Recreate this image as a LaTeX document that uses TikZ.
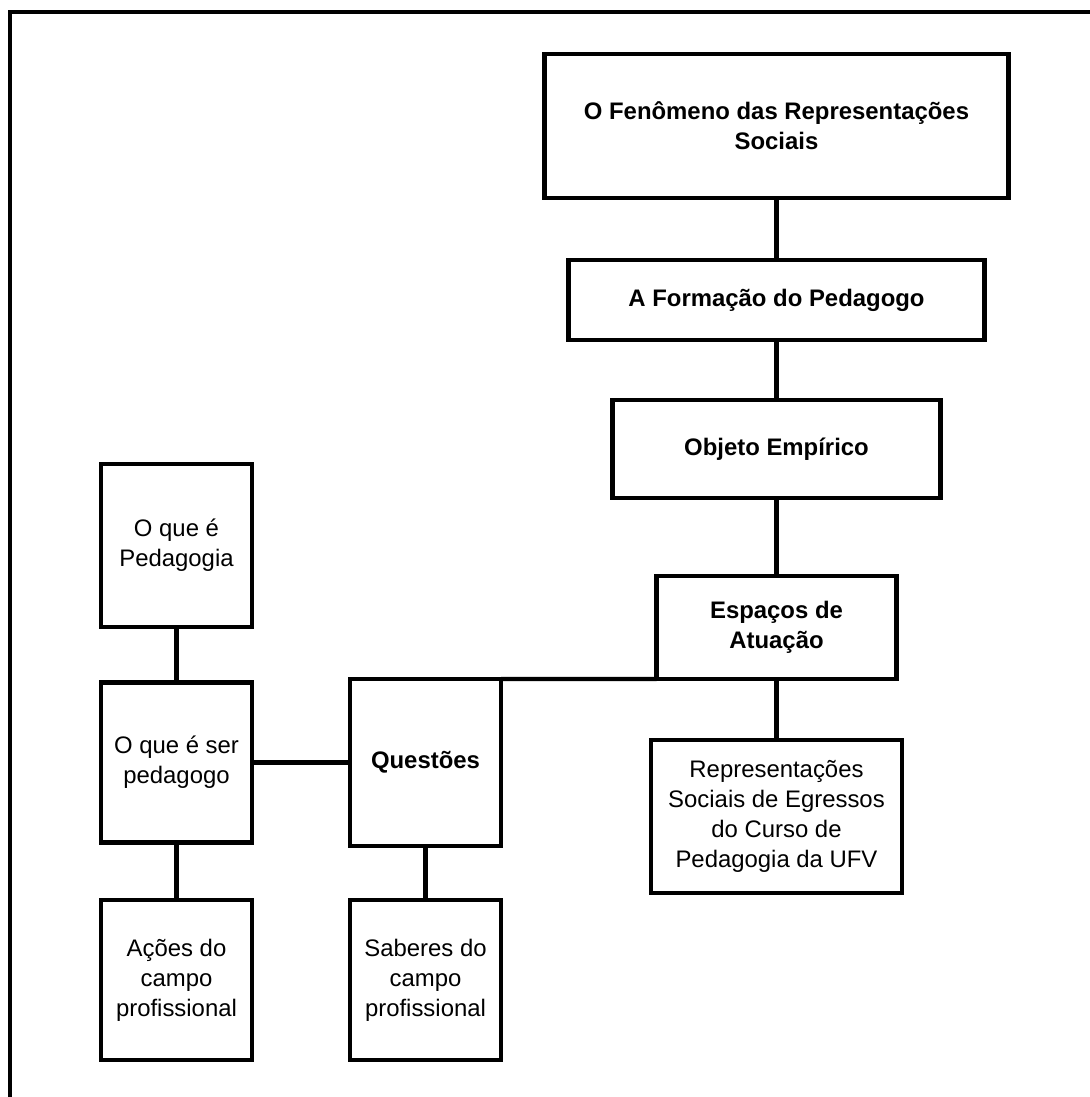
\documentclass[tikz,border=0pt]{standalone}
\usepackage{fontspec}
\setmainfont{Liberation Sans}
\begin{document}
\begin{tikzpicture}[line width=2.5pt,
    caixa/.style={draw, inner sep=0pt, outer sep=0pt, align=center, font=\fontsize{13.6}{17}\selectfont},
    negrito/.style={caixa, font=\fontsize{13.6}{17}\selectfont\bfseries}]
\useasboundingbox (0,0) rectangle (21.8,-21.94);
% moldura
\draw (0.2,-21.94)--(0.2,-0.24)--(21.8,-0.24);

\node[negrito, minimum width=9.28cm, minimum height=2.88cm] (fen) at (15.53,-2.52) {O Fenômeno das Representações\\Sociais};
\node[negrito, minimum width=8.32cm, minimum height=1.6cm] (form) at (15.53,-6.0) {A Formação do Pedagogo};
\node[negrito, minimum width=6.56cm, minimum height=1.96cm] (obj) at (15.53,-8.98) {Objeto Empírico};
\node[negrito, minimum width=4.8cm, minimum height=2.06cm] (esp) at (15.53,-12.55) {Espaços de\\Atuação};
\node[caixa, minimum width=5.02cm, minimum height=3.06cm] (rep) at (15.53,-16.33) {Representações\\Sociais de Egressos\\do Curso de\\Pedagogia da UFV};
\node[negrito, minimum width=3.02cm, minimum height=3.34cm] (que) at (8.51,-15.25) {Questões};
\node[caixa, minimum width=3.02cm, minimum height=3.2cm] (sab) at (8.51,-19.6) {Saberes do\\campo\\profissional};
\node[caixa, minimum width=3.02cm, minimum height=3.26cm] (opg) at (3.53,-10.91) {O que é\\Pedagogia};
\node[caixa, minimum width=3.02cm, minimum height=3.2cm] (ser) at (3.53,-15.25) {O que é ser\\pedagogo};
\node[caixa, minimum width=3.02cm, minimum height=3.2cm] (aco) at (3.53,-19.6) {Ações do\\campo\\profissional};

\draw (fen)--(form);
\draw (form)--(obj);
\draw (obj)--(esp);
\draw (esp)--(rep);
\draw (que.north east)--(esp.south west);
\draw (opg)--(ser);
\draw (ser)--(que);
\draw (ser)--(aco);
\draw (que)--(sab);

\end{tikzpicture}
\end{document}
